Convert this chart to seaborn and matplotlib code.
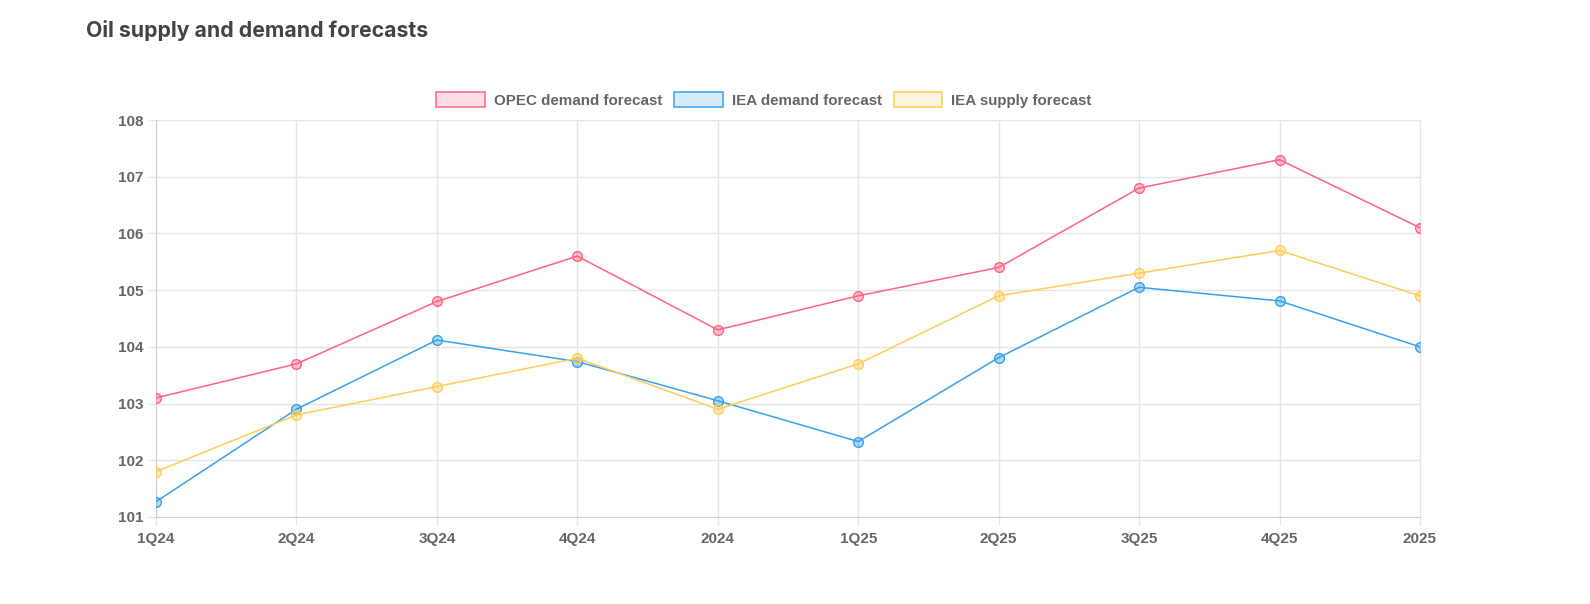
import numpy as np
import matplotlib
matplotlib.use("Agg")
import matplotlib.pyplot as plt
from matplotlib.patches import Patch
import seaborn as sns

quarters = ["1Q24", "2Q24", "3Q24", "4Q24", "2024", "1Q25", "2Q25", "3Q25", "4Q25", "2025"]
opec_demand = [103.1, 103.7, 104.8, 105.6, 104.3, 104.9, 105.4, 106.8, 107.3, 106.1]
iea_demand = [101.27, 102.9, 104.12, 103.74, 103.05, 102.33, 103.81, 105.05, 104.81, 104.0]
iea_supply = [101.8, 102.8, 103.3, 103.8, 102.9, 103.7, 104.9, 105.3, 105.7, 104.9]

series = [
    ("OPEC demand forecast", opec_demand, (255 / 255, 99 / 255, 132 / 255)),
    ("IEA demand forecast", iea_demand, (54 / 255, 162 / 255, 235 / 255)),
    ("IEA supply forecast", iea_supply, (255 / 255, 205 / 255, 86 / 255)),
]

sns.set_style("white")
plt.rcParams["font.family"] = ["Liberation Sans", "DejaVu Sans"]

fig = plt.figure(figsize=(15.9, 6.04), dpi=100)
ax = fig.add_axes([156 / 1590, 1 - 517 / 604, (1420 - 156) / 1590, (517 - 120) / 604])

xpos = np.arange(len(quarters))
handles = []
for label, vals, col in series:
    sns.lineplot(x=xpos, y=vals, ax=ax, color=col, linewidth=1.1, marker="o",
                 markersize=7, markerfacecolor=col + (0.4,), markeredgecolor=col,
                 markeredgewidth=1.0, zorder=3)
    handles.append(Patch(facecolor=col + (0.2,), edgecolor=col, linewidth=1.1, label=label))

ax.set_xlim(0, len(quarters) - 1)
ax.set_ylim(101, 108)
ax.set_xticks(xpos)
ax.set_xticklabels(quarters)
ax.set_yticks(range(101, 109))
ax.grid(True, color="#e5e5e5", linewidth=1)
ax.set_axisbelow(True)
ax.spines["top"].set_visible(False)
ax.spines["right"].set_color("#e5e5e5")
ax.spines["bottom"].set_color("#cfcfcf")
ax.spines["left"].set_color("#cfcfcf")
ax.tick_params(axis="both", length=6, color="#e5e5e5", width=1, labelsize=11,
               labelcolor="#666666", pad=3, left=True, bottom=True)
ax.tick_params(axis="x", pad=13)
for t in ax.get_xticklabels():
    t.set_fontweight("bold")
    t.set_va("baseline")
for t in ax.get_yticklabels():
    t.set_fontweight("bold")
ax.set_xlabel("")
ax.set_ylabel("")
if ax.get_legend():
    ax.get_legend().remove()

fig.legend(handles=handles, loc="center", bbox_to_anchor=(764 / 1590, 1 - 100 / 604),
           ncol=3, frameon=False, handlelength=3.2, handleheight=1.1,
           handletextpad=0.6, columnspacing=0.8,
           prop={"size": 10.9, "weight": "bold"}, labelcolor="#666666")

fig.text(86 / 1590, 1 - 30.5 / 604, "Oil supply and demand forecasts", fontsize=15.3,
         fontweight="bold", color="#444444", va="center", ha="left",
         family=["Inter", "Liberation Sans", "DejaVu Sans"])

fig.savefig("out.png", dpi=100, facecolor="white")
plt.close()
